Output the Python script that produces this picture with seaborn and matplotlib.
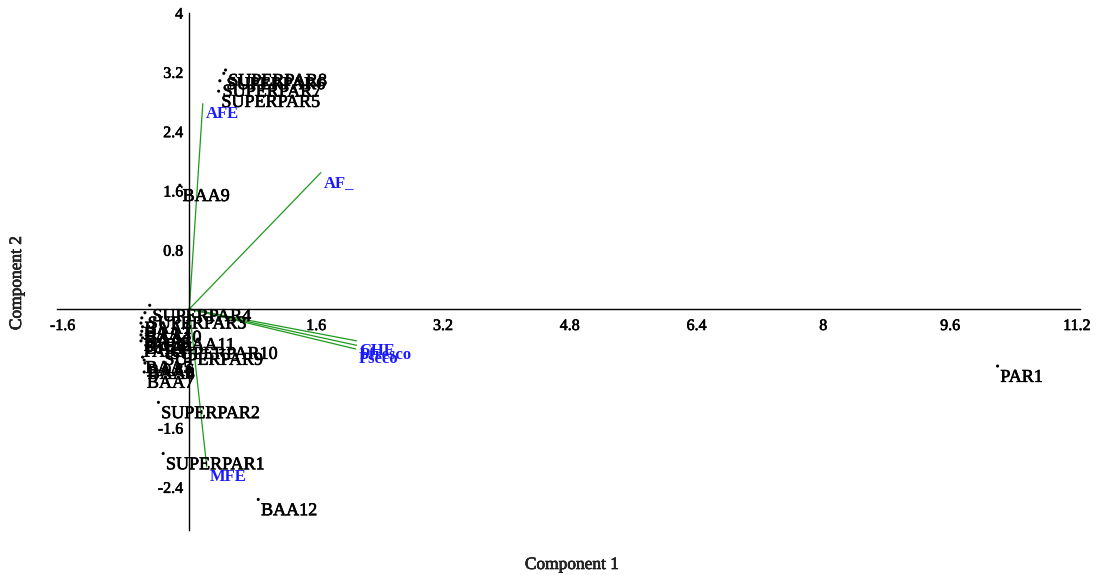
import matplotlib
matplotlib.use("Agg")
import matplotlib.pyplot as plt
import matplotlib.patheffects as pe
import seaborn as sns
import pandas as pd

# PCA scores (Component 1, Component 2) for each sample
sample_names = [
    "PAR1", "BAA12", "SUPERPAR1", "SUPERPAR2", "BAA9",
    "SUPERPAR8", "SUPERPAR6", "SUPERPAR7", "SUPERPAR5",
    "SUPERPAR4", "SUPERPAR3", "BAA1", "BAA2", "BAA10", "BAA3", "PAR2",
    "BAA11", "BAA4", "PAR3", "SUPERPAR10", "SUPERPAR9",
    "BAA5", "BAA6", "BAA8", "BAA7",
]
comp1 = [
    10.20, 0.87, -0.33, -0.39, -0.12,
    0.457, 0.435, 0.385, 0.37,
    -0.50, -0.56, -0.60, -0.61, -0.59, -0.60, -0.61,
    -0.16, -0.59, -0.61, -0.28, -0.35,
    -0.59, -0.57, -0.56, -0.57,
]
comp2 = [
    -0.77, -2.57, -1.95, -1.26, 1.67,
    3.225, 3.18, 3.08, 2.94,
    0.05, -0.05, -0.12, -0.19, -0.24, -0.30, -0.35,
    -0.34, -0.39, -0.43, -0.46, -0.54,
    -0.65, -0.69, -0.73, -0.85,
]

# Variable loadings drawn as vectors from the origin
var_names = ["AFE", "AF_", "MFE", "CHE", "Pfresco", "Pseco"]
load1 = [0.17, 1.66, 0.22, 2.11, 2.11, 2.10]
load2 = [2.77, 1.84, -2.13, -0.43, -0.49, -0.54]

x_ticks = [-1.6, 1.6, 3.2, 4.8, 6.4, 8, 9.6, 11.2]
y_ticks = [-2.4, -1.6, -0.8, 0.8, 1.6, 2.4, 3.2, 4]
x_tick_labels = ["-1.6", "1.6", "3.2", "4.8", "6.4", "8", "9.6", "11.2"]
y_tick_labels = ["-2.4", "-1.6", "-0.8", "0.8", "1.6", "2.4", "3.2", "4"]

sns.set_style("white")
plt.rcParams["font.family"] = ["Liberation Serif", "DejaVu Serif"]

# slightly heavier strokes for the black serif text
heavy = [pe.withStroke(linewidth=0.45, foreground="black")]

fig = plt.figure(figsize=(10.98, 5.75), dpi=100)
ax = fig.add_axes([0.0519, 0.0786, 0.9317, 0.8995])

scores = pd.DataFrame({"c1": comp1, "c2": comp2, "name": sample_names})
loadings = pd.DataFrame({"c1": load1, "c2": load2, "name": var_names})

# vectors
for _, row in loadings.iterrows():
    ax.plot([0, row.c1], [0, row.c2], color="#1f9a1f", lw=0.9, zorder=2)

# sample points
sns.scatterplot(data=scores, x="c1", y="c2", color="black", s=5,
                edgecolor="none", ax=ax, zorder=3, legend=False)

for _, row in scores.iterrows():
    ax.annotate(row["name"], (row.c1, row.c2), xytext=(2, -2),
                textcoords="offset points", ha="left", va="top",
                fontsize=13, color="black", zorder=4, annotation_clip=False,
                path_effects=heavy)

for _, row in loadings.iterrows():
    ax.annotate(row["name"], (row.c1, row.c2), xytext=(2, -1.5),
                textcoords="offset points", ha="left", va="top",
                fontsize=12, fontweight="bold", color="#1a1aff",
                zorder=5, annotation_clip=False)

ax.set_xlim(-1.67, 11.24)
ax.set_ylim(-2.98, 4.0)

for side in ("top", "right"):
    ax.spines[side].set_visible(False)
ax.spines["left"].set_position(("data", 0))
ax.spines["bottom"].set_position(("data", 0))
for side in ("left", "bottom"):
    ax.spines[side].set_color("black")
    ax.spines[side].set_linewidth(1.0)

ax.set_xticks(x_ticks)
ax.set_xticklabels(x_tick_labels)
ax.set_yticks(y_ticks)
ax.set_yticklabels(y_tick_labels)
ax.tick_params(axis="both", direction="out", length=4, width=1,
               color="black", labelsize=11.5, labelcolor="black")
ax.tick_params(axis="y", pad=0.5)
ax.tick_params(axis="x", pad=2.5)
for lbl in ax.get_xticklabels() + ax.get_yticklabels():
    lbl.set_path_effects(heavy)
ax.set_xlabel("")
ax.set_ylabel("")
ax.grid(False)

fig.text(572 / 1098, 1 - 565 / 575, "Component 1", ha="center", va="center",
         fontsize=12.5, path_effects=heavy)
fig.text(17 / 1098, 1 - 283 / 575, "Component 2", ha="center", va="center",
         rotation=90, fontsize=12.5, path_effects=heavy)

fig.savefig("out.png", dpi=100)
